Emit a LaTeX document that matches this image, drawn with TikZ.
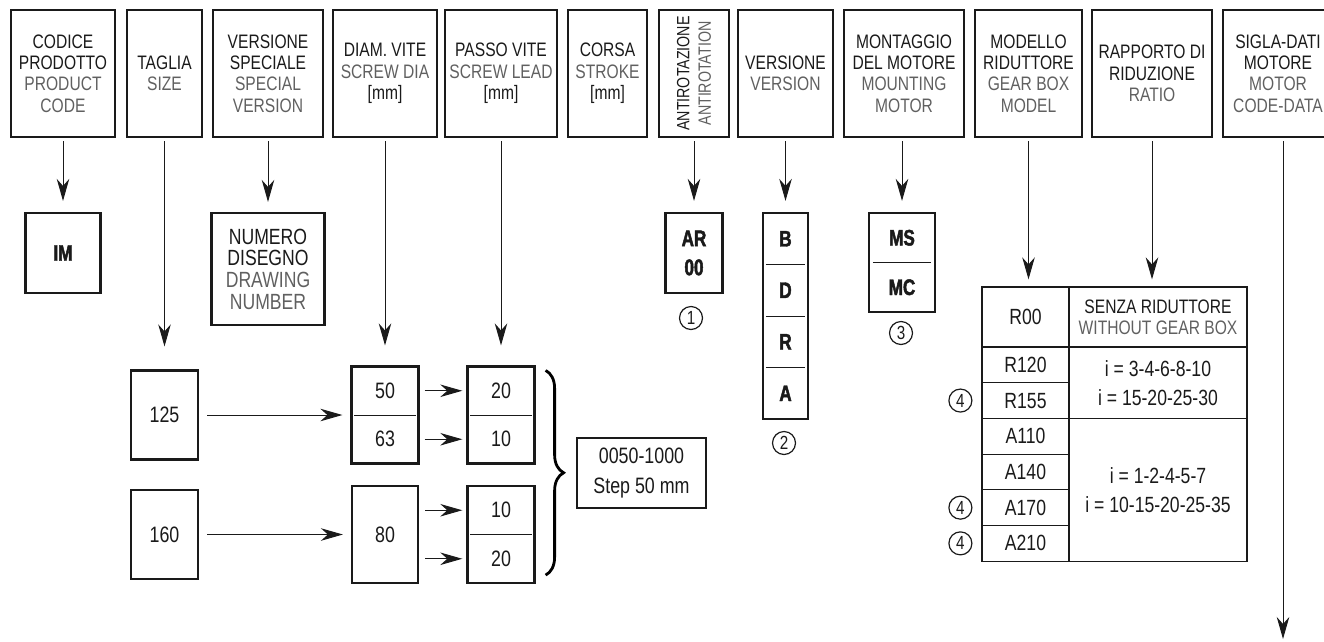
\documentclass[tikz,border=0pt]{standalone}
\usepackage{fontspec}
\setmainfont{Liberation Sans}[FakeStretch=0.8]
\newfontfamily\heavy{Liberation Sans}[FakeStretch=0.76,FakeBold=2]
\usepackage{tikz}
\usetikzlibrary{arrows.meta,decorations.pathreplacing}
\definecolor{ink}{HTML}{1A1A1A}
\definecolor{engl}{HTML}{606060}
\newcommand{\gry}[1]{{\color{engl}#1}}

\begin{document}
\begin{tikzpicture}[x=1pt,y=-1pt,
  every node/.style={text=ink,inner sep=0pt},
  hd/.style={draw=ink,line width=2.2pt,minimum height=127pt,align=center,font=\fontsize{19.5}{21.3}\selectfont},
  bx/.style={draw=ink,line width=2.2pt,align=center,font=\fontsize{22.3}{30}\selectfont},
  lbl/.style={font=\fontsize{22.3}{30}\selectfont},
  heavytxt/.style={align=center,font=\heavy\bfseries\fontsize{22.5}{29}\selectfont},
  cell/.style={draw=ink,line width=1.2pt,align=center,font=\fontsize{22}{29}\selectfont},
  circ/.style={circle,draw=ink,line width=1.2pt,minimum size=23pt,font=\fontsize{19}{19}\selectfont},
  arr/.style={draw=ink,line width=1pt,-{Stealth[length=22pt,width=12.5pt,inset=7pt]}},
  divider/.style={draw=ink,line width=1pt}]
  \useasboundingbox (0,0) rectangle (1324,641);
  % code fields along the top
  \foreach \nm/\x/\w/\txt in {
    code/63/104/{CODICE\\PRODOTTO\\\gry{PRODUCT}\\\gry{CODE}},
    size/164.5/75/{TAGLIA\\\gry{SIZE}},
    spec/268/110/{VERSIONE\\SPECIALE\\\gry{SPECIAL}\\\gry{VERSION}},
    dia/385/104/{DIAM. VITE\\\gry{SCREW DIA}\\{[mm]}},
    lead/501/112/{PASSO VITE\\\gry{SCREW LEAD}\\{[mm]}},
    stroke/607.5/79/{CORSA\\\gry{STROKE}\\{[mm]}},
    arot/694/70/{},
    vers/785.5/95/{VERSIONE\\\gry{VERSION}},
    mount/904/120/{MONTAGGIO\\DEL MOTORE\\\gry{MOUNTING}\\\gry{MOTOR}},
    gear/1028.5/107/{MODELLO\\RIDUTTORE\\\gry{GEAR BOX}\\\gry{MODEL}},
    ratio/1152/120/{RAPPORTO DI\\RIDUZIONE\\\gry{RATIO}},
    motor/1278/110/{SIGLA-DATI\\MOTORE\\\gry{MOTOR}\\\gry{CODE-DATA}}}
    \node[hd,minimum width=\w pt] (\nm) at (\x,73.5) {\txt};
  \node[rotate=90,align=center,font=\fontsize{17.8}{21.3}\selectfont] (arottxt) at (arot) {ANTIROTAZIONE\\\gry{ANTIROTATION}};

  % options
  \node[bx,heavytxt,minimum width=75pt,minimum height=80pt] (im) at (63,253) {IM};
  \node[bx,minimum width=113pt,minimum height=112pt,font=\fontsize{22}{21.7}\selectfont] (drw) at (268,269) {NUMERO\\DISEGNO\\\gry{DRAWING}\\\gry{NUMBER}};
  \node[bx,heavytxt,minimum width=57pt,minimum height=80pt] (ar) at (694,253) {AR\\00};
  \node[circ] (c1) at (691,318) {1};
  \node[bx,minimum width=45pt,minimum height=206pt] (vbox) at (785.5,316) {};
  \foreach \lt [count=\i] in {B,D,R,A}
    \node[heavytxt,minimum width=45pt,minimum height=51.5pt] (v\lt) at (785.5,213+51.5*\i-25.75) {\lt};
  \foreach \lt in {B,D,R}
    \draw[divider,shorten <=3pt,shorten >=3pt] (v\lt.south west) -- (v\lt.south east);
  \node[circ] (c2) at (784,443) {2};
  \node[bx,minimum width=66pt,minimum height=99pt] (mbox) at (902,262.5) {};
  \node[heavytxt,minimum width=66pt,minimum height=49.5pt] (mMS) at (902,237.75) {MS};
  \node[heavytxt,minimum width=66pt,minimum height=49.5pt] (mMC) at (902,287.25) {MC};
  \draw[divider,shorten <=4pt,shorten >=4pt] (mMS.south west) -- (mMS.south east);
  \node[circ] (c3) at (901,333) {3};

  % sizes, screws, stroke
  \node[bx,minimum width=67pt,minimum height=89pt] (s125) at (164.5,415) {125};
  \node[bx,minimum width=67pt,minimum height=89pt] (s160) at (164.5,534.5) {160};
  \node[bx,minimum width=66pt,minimum height=97pt] (d80) at (385,534.5) {80};
  \foreach \nm/\x/\y/\up/\lo in {dA/385/415/50/63, lA/501/415/20/10, lB/501/534.5/10/20}{
    \node[bx,minimum width=67pt,minimum height=97pt] (\nm) at (\x,\y) {};
    \node[lbl,minimum width=67pt,minimum height=48.5pt] (\nm-u) at (\x,\y-24.25) {\up};
    \node[lbl,minimum width=67pt,minimum height=48.5pt] (\nm-l) at (\x,\y+24.25) {\lo};
    \draw[divider,shorten <=4pt,shorten >=4pt] (\nm.west) -- (\nm.east);}
  \node[bx,minimum width=129pt,minimum height=70pt] (sval) at (641.5,473) {0050-1000\\Step 50 mm};
  \draw[decorate,decoration={brace,amplitude=18pt},line width=2.8pt]
    ([xshift=10pt,yshift=-5pt]lA.north east) -- ([xshift=10pt,yshift=9pt]lB.south east);

  % gear box table
  \node[cell,minimum width=87pt,minimum height=60pt] (r00) at (1025.5,317) {R00};
  \foreach \nm/\txt [count=\i] in {r120/R120,r155/R155,a110/A110,a140/A140,a170/A170,a210/A210}
    \node[cell,minimum width=87pt,minimum height=35.7pt] (\nm) at (1025.5,347+35.7*\i-17.85) {\txt};
  \node[cell,minimum width=178pt,minimum height=60pt,font=\fontsize{19.5}{21}\selectfont] (rt0) at (1158,317) {SENZA RIDUTTORE\\\gry{WITHOUT GEAR BOX}};
  \node[cell,minimum width=178pt,minimum height=71.4pt] (rt1) at (1158,382.7) {i = 3-4-6-8-10\\i = 15-20-25-30};
  \node[cell,minimum width=178pt,minimum height=142.8pt] (rt2) at (1158,489.8) {i = 1-2-4-5-7\\i = 10-15-20-25-35};
  \foreach \nm in {r155,a170,a210}
    \node[circ] (q\nm) at ([xshift=-21pt]\nm.west) {4};

  % connectors
  \draw[arr,shorten <=3pt,shorten >=11pt] (code) -- (im);
  \draw[arr,shorten <=3pt,shorten >=23pt] (size) -- (s125);
  \draw[arr,shorten <=3pt,shorten >=10pt] (spec) -- (drw);
  \draw[arr,shorten <=3pt,shorten >=20pt] (dia) -- (dA);
  \draw[arr,shorten <=3pt,shorten >=20pt] (lead) -- (lA);
  \draw[arr,shorten <=3pt,shorten >=11pt] (arot) -- (ar);
  \draw[arr,shorten <=3pt,shorten >=11pt] (vers) -- (vbox);
  \draw[arr,shorten <=3pt,shorten >=11pt] (mbox |- mount.south) -- (mbox);
  \draw[arr,shorten <=3pt,shorten >=7pt] (gear.south) -- (gear.south |- r00.north);
  \draw[arr,shorten <=3pt,shorten >=7pt] (ratio.south) -- (ratio.south |- rt0.north);
  \coordinate (mend) at (1283,639);
  \draw[arr,shorten <=3pt] (mend |- motor.south) -- (mend);
  \draw[arr,shorten <=8pt,shorten >=8pt] (s125) -- (dA);
  \draw[arr,shorten <=8pt,shorten >=8pt] (s160) -- (d80);
  \draw[arr,shorten <=6pt,shorten >=5pt] (dA-u) -- (lA-u);
  \draw[arr,shorten <=6pt,shorten >=5pt] (dA-l) -- (lA-l);
  \draw[arr,shorten <=6pt,shorten >=5pt] (d80.east |- lB-u) -- (lB-u);
  \draw[arr,shorten <=6pt,shorten >=5pt] (d80.east |- lB-l) -- (lB-l);
\end{tikzpicture}
\end{document}
